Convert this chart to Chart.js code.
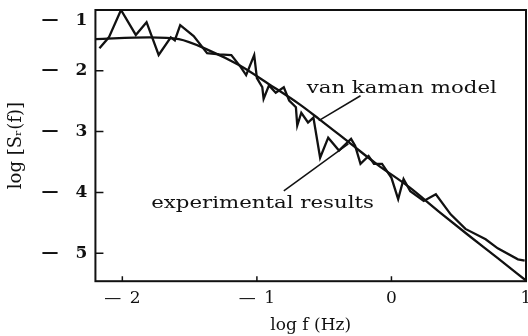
<!DOCTYPE html>
<html>
<head>
<meta charset="utf-8">
<script src="https://cdn.jsdelivr.net/npm/chart.js@4.4.1/dist/chart.umd.min.js"></script>
<style>
  html, body { margin: 0; padding: 0; background: #fff; }
  #wrap { width: 528px; height: 336px; }
</style>
</head>
<body>
<div id="wrap"><canvas id="spectrum"></canvas></div>
<script>
// log f (Hz) vs log S_r(f)
const expX = [-2.17, -2.10, -2.01, -1.90, -1.82, -1.73, -1.64, -1.61, -1.57, -1.47, -1.37, -1.28, -1.19, -1.12, -1.08, -1.02, -1.00,
  -0.96, -0.95, -0.91, -0.86, -0.80, -0.76, -0.71, -0.70, -0.67, -0.62, -0.58, -0.53, -0.47, -0.39, -0.30, -0.27, -0.23, -0.17,
  -0.13, -0.07, 0.00, 0.05, 0.09, 0.14, 0.24, 0.33, 0.44, 0.55, 0.70, 0.79, 0.94, 0.99];
const expY = [-1.63, -1.45, -1.00, -1.41, -1.20, -1.74, -1.45, -1.50, -1.25, -1.43, -1.71, -1.73, -1.74, -1.94, -2.07, -1.74, -2.12,
  -2.27, -2.46, -2.24, -2.36, -2.27, -2.49, -2.60, -2.90, -2.69, -2.85, -2.77, -3.43, -3.10, -3.31, -3.12, -3.23, -3.53, -3.40,
  -3.53, -3.53, -3.76, -4.11, -3.78, -3.98, -4.14, -4.03, -4.36, -4.60, -4.77, -4.92, -5.10, -5.12];

const modelX = [-2.2, -1.8, -1.58, -1.36, -1.13, -0.91, -0.69, -0.54, -0.32, -0.10, 0.13, 0.35, 0.57, 0.79, 1.0];
const modelY = [-1.48, -1.45, -1.48, -1.66, -1.91, -2.22, -2.54, -2.79, -3.17, -3.55, -3.91, -4.31, -4.70, -5.08, -5.45];

const xTicks = [-2, -1, 0, 1];
const yTicks = [-5, -4, -3, -2, -1];

const toPoints = (xs, ys) => xs.map((x, i) => ({ x: x, y: ys[i] }));
// negative numbers are printed as a long dash, a gap, then the digit
const xLabel = v => (v < 0 ? '—\u2002' + Math.abs(v) : String(v));
const yLabel = v => (v < 0 ? '—\u2003' + Math.abs(v) : String(v));

// annotation texts and their leader lines, in data units
const notes = [
  { text: 'van kaman model', at: [-0.63, -2.37], from: [-0.54, -2.82], to: [-0.23, -2.41] },
  { text: 'experimental results', at: [-1.785, -4.256], from: [-0.80, -3.975], to: [-0.32, -3.2] }
];

const serif = '"DejaVu Serif", "Liberation Serif", serif';
const ink = '#111';

const framePlugin = {
  id: 'frame',
  afterDraw(chart) {
    const { ctx, chartArea: a, scales } = chart;
    ctx.save();
    ctx.strokeStyle = ink;
    ctx.lineWidth = 2;
    ctx.strokeRect(a.left, a.top, a.right - a.left, a.bottom - a.top);

    // short inward tick marks
    ctx.lineWidth = 1.5;
    ctx.beginPath();
    xTicks.forEach(v => {
      const px = scales.x.getPixelForValue(v);
      ctx.moveTo(px, a.bottom);
      ctx.lineTo(px, a.bottom - 5);
    });
    yTicks.forEach(v => {
      const py = scales.y.getPixelForValue(v);
      ctx.moveTo(a.left, py);
      ctx.lineTo(a.left + 8, py);
    });
    ctx.stroke();

    // labels with pointer lines
    ctx.fillStyle = ink;
    ctx.font = '16px ' + serif;
    ctx.textBaseline = 'alphabetic';
    notes.forEach(n => {
      ctx.beginPath();
      ctx.moveTo(scales.x.getPixelForValue(n.from[0]), scales.y.getPixelForValue(n.from[1]));
      ctx.lineTo(scales.x.getPixelForValue(n.to[0]), scales.y.getPixelForValue(n.to[1]));
      ctx.stroke();
      ctx.save();
      ctx.translate(scales.x.getPixelForValue(n.at[0]), scales.y.getPixelForValue(n.at[1]));
      ctx.scale(1.33, 1); // the scan is stretched sideways
      ctx.fillText(n.text, 0, 0);
      ctx.restore();
    });
    ctx.restore();
  }
};

new Chart(document.getElementById('spectrum'), {
  type: 'line',
  data: {
    datasets: [
      {
        label: 'experimental results',
        data: toPoints(expX, expY),
        borderColor: ink,
        borderWidth: 2.3,
        pointRadius: 0,
        tension: 0
      },
      {
        label: 'van kaman model',
        data: toPoints(modelX, modelY),
        borderColor: ink,
        borderWidth: 2.3,
        pointRadius: 0,
        cubicInterpolationMode: 'monotone'
      }
    ]
  },
  options: {
    responsive: true,
    maintainAspectRatio: false,
    animation: false,
    layout: { padding: { top: 10, right: 2, left: 6, bottom: 0 } },
    plugins: {
      legend: { display: false },
      tooltip: { enabled: false }
    },
    scales: {
      x: {
        type: 'linear',
        min: -2.2,
        max: 1,
        afterBuildTicks: s => { s.ticks = xTicks.map(v => ({ value: v })); },
        afterFit: s => { s.paddingRight = 0; },
        grid: { display: false, drawTicks: false },
        border: { display: false },
        ticks: {
          callback: xLabel,
          color: ink,
          padding: 7,
          maxRotation: 0,
          font: { family: serif, size: 17 }
        },
        title: {
          display: true,
          text: 'log f (Hz)',
          color: ink,
          padding: { top: 0, bottom: 0 },
          font: { family: serif, size: 17 }
        }
      },
      y: {
        min: -5.46,
        max: -1,
        afterBuildTicks: s => { s.ticks = yTicks.map(v => ({ value: v })); },
        afterFit: s => { s.paddingTop = 0; },
        grid: { display: false, drawTicks: false },
        border: { display: false },
        ticks: {
          // top label sits a little below the frame in the original
          callback: v => (v === -1 ? ['', yLabel(v)] : yLabel(v)),
          color: ink,
          padding: 8,
          font: { family: serif, size: 17, weight: 'bold' }
        },
        title: {
          display: true,
          text: 'log [Sᵣ(f)]',
          color: ink,
          padding: { top: 0, bottom: 6 },
          font: { family: serif, size: 18 }
        }
      }
    }
  },
  plugins: [framePlugin]
});
</script>
</body>
</html>
